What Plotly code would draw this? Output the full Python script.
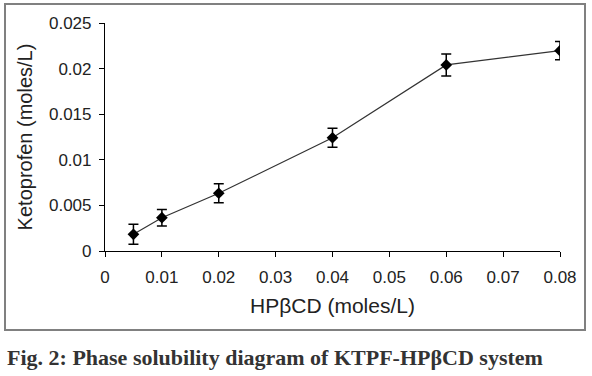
import plotly.graph_objects as go

hpbcd = [0.005, 0.01, 0.02, 0.04, 0.06, 0.08]
ketoprofen = [0.00183, 0.00365, 0.00633, 0.01242, 0.0204, 0.02196]
err = [0.0011, 0.0009, 0.00105, 0.00104, 0.0012, 0.001]
x_ticks = [0, 0.01, 0.02, 0.03, 0.04, 0.05, 0.06, 0.07, 0.08]
x_labels = ["0", "0.01", "0.02", "0.03", "0.04", "0.05", "0.06", "0.07", "0.08"]
y_ticks = [0, 0.005, 0.01, 0.015, 0.02, 0.025]
y_labels = ["0", "0.005", "0.01", "0.015", "0.02", "0.025"]

W, H = 592, 376
L, R, T, B = 105, 32, 23, 125
PW, PH = W - L - R, H - T - B

fig = go.Figure()
fig.add_trace(go.Scatter(
    x=hpbcd, y=ketoprofen, mode="lines+markers",
    line=dict(color="#333333", width=1.2),
    marker=dict(symbol="diamond", size=9, color="black"),
    error_y=dict(type="data", array=err, visible=True, color="black", thickness=1.5, width=5),
    showlegend=False,
))

font = dict(family="Liberation Sans, Arial, sans-serif", color="#222222")
fig.update_layout(
    width=W, height=H,
    margin=dict(l=L, r=R, t=T, b=B),
    paper_bgcolor="white", plot_bgcolor="white",
    font=font,
    xaxis=dict(
        range=[0, 0.08], tickvals=x_ticks, ticktext=x_labels,
        showline=True, linecolor="black", linewidth=1.2,
        ticks="outside", ticklen=5, tickcolor="black",
        showgrid=False, zeroline=False,
        ticklabelstandoff=5,
        tickfont=dict(size=17, **font),
        title=dict(text="HPβCD (moles/L)", font=dict(size=21, **font), standoff=12),
    ),
    yaxis=dict(
        range=[0, 0.025], tickvals=y_ticks, ticktext=y_labels,
        showline=True, linecolor="black", linewidth=1.2,
        ticks="outside", ticklen=5, tickcolor="black",
        showgrid=False, zeroline=False,
        ticklabelstandoff=4,
        tickfont=dict(size=17, **font),
        title=dict(text="Ketoprofen (moles/L)", font=dict(size=20, **font), standoff=10),
    ),
    shapes=[dict(
        type="rect", xref="paper", yref="paper",
        x0=(5 - L) / PW, x1=(585 - L) / PW,
        y0=(H - B - 330) / PH, y1=(H - B - 4) / PH,
        line=dict(color="#808080", width=2), layer="below",
    )],
    annotations=[dict(
        text="<b>Fig. 2: Phase solubility diagram of KTPF-HPβCD system</b>",
        xref="paper", yref="paper",
        x=(5 - L) / PW, y=(H - B - 357) / PH,
        xanchor="left", yanchor="middle", showarrow=False,
        font=dict(family="Liberation Serif, Times New Roman, serif", size=22, color="#333333"),
    )],
)

fig.write_html("out.html", config={"displayModeBar": False},
               post_script="document.body.style.margin='0';document.body.style.overflow='hidden';")
